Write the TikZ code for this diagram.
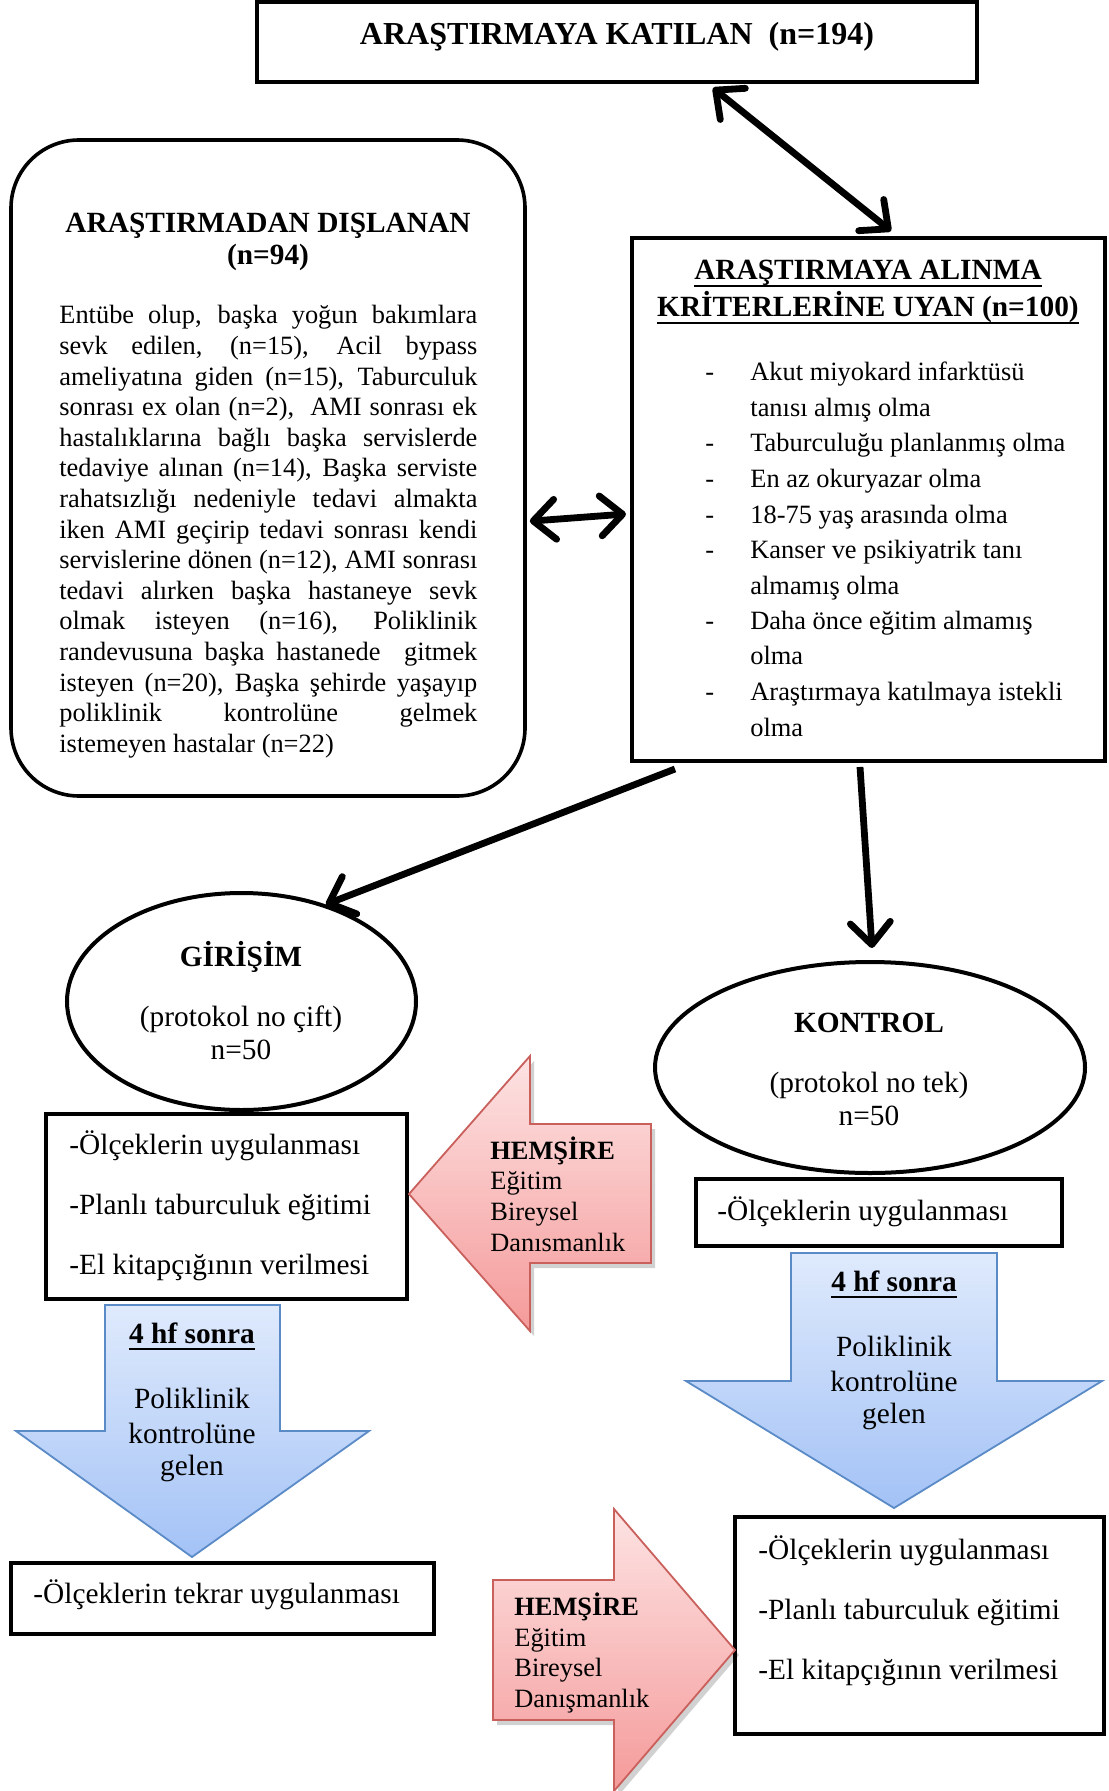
\documentclass[tikz,border=0pt]{standalone}
\usepackage{fontspec}
\setmainfont{Liberation Serif}
\usetikzlibrary{arrows.meta,shapes.geometric,fit,calc}
\newcommand\fsz[2]{\fontsize{#1}{#2}\selectfont}
\newcommand\myul[1]{\setbox0=\hbox{#1}\leavevmode\rlap{\rule[-3.3pt]{\wd0}{1pt}}\box0}
\newcommand\jl[1]{\makebox[\linewidth][s]{#1}}
\newcommand\di[1]{\leavevmode\rlap{-}\hspace*{22.5pt}#1}
\newcommand\nd[1]{\leavevmode\hspace*{22.5pt}#1}
\definecolor{redbd}{HTML}{C9605C}
\definecolor{redtop}{HTML}{FDE3E3}
\definecolor{redbot}{HTML}{F59A9A}
\definecolor{bluebd}{HTML}{5B8BC7}
\definecolor{bluetop}{HTML}{DFEAFC}
\definecolor{bluebot}{HTML}{A3C2F6}
\begin{document}
\begin{tikzpicture}[x=0.5pt,y=-0.5pt,
 >={Straight Barb[length=11pt,width=20pt,round]},
 frame/.style={draw=black,line width=2pt,inner sep=0pt,fit={#1}},
 oval/.style={draw=black,line width=2pt,ellipse,inner sep=0pt},
 tb/.style={inner sep=0pt,font=\fsz{14.67}{17}},
 tbb/.style={inner sep=0pt,font=\fsz{14.67}{17}\bfseries},
 ts/.style={inner sep=0pt,font=\fsz{13.2}{15.4}},
 tsb/.style={inner sep=0pt,font=\fsz{13.2}{15.4}\bfseries},
 conn/.style={line width=3.4pt,draw=black},
 shad/.style={fill=black,opacity=0.18,xshift=2pt,yshift=-2.5pt},
 redar/.style={draw=redbd,line width=0.9pt,top color=redtop,bottom color=redbot},
 bluear/.style={draw=bluebd,line width=0.9pt,top color=bluetop,bottom color=bluebot}
]
\fill[white] (0,0) rectangle (1108,1791);
\useasboundingbox (0,0) rectangle (1108,1791);

% top box
\node[frame={(257,2) (977,82)}] (top) {};
\node[inner sep=0pt,anchor=base,font=\fsz{16}{19}\bfseries] (toptxt) at (617,45) {ARAŞTIRMAYA KATILAN\ \ (n=194)};

% excluded
\node[frame={(11,140) (525,796)},rounded corners=34pt,line width=1.8pt] (excl) {};
\node[tbb,anchor=base] (exclt) at (268,233) {ARAŞTIRMADAN DIŞLANAN};
\node[tbb,anchor=base] (excln) at (268,265) {(n=94)};
\node[anchor=base west,inner sep=0pt] (exclbody) at (59,324) {\parbox[t]{209pt}{\fsz{13.2}{15.3}%
\jl{Entübe olup, başka yoğun bakımlara}\\
\jl{sevk edilen, (n=15), Acil bypass}\\
\jl{ameliyatına giden (n=15), Taburculuk}\\
\jl{sonrası ex olan (n=2),\ \ AMI sonrası ek}\\
\jl{hastalıklarına bağlı başka servislerde}\\
\jl{tedaviye alınan (n=14), Başka serviste}\\
\jl{rahatsızlığı nedeniyle tedavi almakta}\\
\jl{iken AMI geçirip tedavi sonrası kendi}\\
\jl{servislerine dönen (n=12), AMI sonrası}\\
\jl{tedavi alırken başka hastaneye sevk}\\
\jl{olmak isteyen (n=16), Poliklinik}\\
\jl{randevusuna başka hastanede\ \ gitmek}\\
\jl{isteyen (n=20), Başka şehirde yaşayıp}\\
\jl{poliklinik kontrolüne gelmek}\\
istemeyen hastalar (n=22)}};

% criteria
\node[frame={(632,238) (1105,761)}] (crit) {};
\node[tbb,anchor=base] (critt1) at (868,280) {\myul{ARAŞTIRMAYA ALINMA}};
\node[tbb,anchor=base] (critt2) at (868,317) {\myul{KRİTERLERİNE UYAN (n=100)}};
\node[anchor=base west,inner sep=0pt] (critlist) at (705,381) {\parbox[t]{195pt}{\fsz{13.2}{17.75}%
\di{Akut miyokard infarktüsü}\\
\nd{tanısı almış olma}\\
\di{Taburculuğu planlanmış olma}\\
\di{En az okuryazar olma}\\
\di{18-75 yaş arasında olma}\\
\di{Kanser ve psikiyatrik tanı}\\
\nd{almamış olma}\\
\di{Daha önce eğitim almamış}\\
\nd{olma}\\
\di{Araştırmaya katılmaya istekli}\\
\nd{olma}}};

% ellipses
\node[oval,minimum width=174.5pt,minimum height=108.5pt] (gir) at (241.5,1001.5) {};
\node[tbb,anchor=base] (girt) at (241,966) {GİRİŞİM};
\node[tb,anchor=base] (girp) at (241,1026) {(protokol no çift)};
\node[tb,anchor=base] (girn) at (241,1059) {n=50};

\node[oval,minimum width=215pt,minimum height=105.5pt] (kon) at (870,1067.5) {};
\node[tbb,anchor=base] (kont) at (869,1032) {KONTROL};
\node[tb,anchor=base] (konp) at (869,1092) {(protokol no tek)};
\node[tb,anchor=base] (konn) at (869,1125) {n=50};

% boxes
\node[frame={(46,1114) (407,1299)}] (girbox) {};
\node[tb,anchor=base west] (gb1) at (69,1154) {-Ölçeklerin uygulanması};
\node[tb,anchor=base west] (gb2) at (69,1214) {-Planlı taburculuk eğitimi};
\node[tb,anchor=base west] (gb3) at (69,1274) {-El kitapçığının verilmesi};

\node[frame={(696,1179) (1062,1246)}] (konbox) {};
\node[tb,anchor=base west] (kb1) at (717,1220) {-Ölçeklerin uygulanması};

\node[frame={(11,1563) (434,1634)}] (tekbox) {};
\node[tb,anchor=base west] (tk1) at (33,1603) {-Ölçeklerin tekrar uygulanması};

\node[frame={(735,1517) (1104,1734)}] (konbox2) {};
\node[tb,anchor=base west] (kb21) at (758,1559) {-Ölçeklerin uygulanması};
\node[tb,anchor=base west] (kb22) at (758,1619) {-Planlı taburculuk eğitimi};
\node[tb,anchor=base west] (kb23) at (758,1679) {-El kitapçığının verilmesi};

% block arrows
\def\redA{(409,1194) -- (530,1056) -- (530,1124) -- (651,1124) -- (651,1263) -- (530,1263) -- (530,1331) -- cycle}
\def\redB{(493,1580) -- (614,1580) -- (614,1509) -- (735,1650) -- (614,1791) -- (614,1720) -- (493,1720) -- cycle}
\def\blueL{(105,1305) -- (280,1305) -- (280,1431) -- (369,1431) -- (192,1557) -- (16,1431) -- (105,1431) -- cycle}
\def\blueR{(791,1253) -- (997,1253) -- (997,1381) -- (1102,1381) -- (894,1508) -- (686,1381) -- (791,1381) -- cycle}
\fill[shad] \redA;
\path[redar] \redA;
\fill[shad] \redB;
\path[redar] \redB;
\path[bluear] \blueL;
\path[bluear] \blueR;

\node[tsb,anchor=base west] (r1a) at (490,1159) {HEMŞİRE};
\node[ts,anchor=base west] (r1b) at (490,1189) {Eğitim};
\node[ts,anchor=base west] (r1c) at (490,1220) {Bireysel};
\node[ts,anchor=base west] (r1d) at (490,1251) {Danısmanlık};

\node[tsb,anchor=base west] (r2a) at (514,1615) {HEMŞİRE};
\node[ts,anchor=base west] (r2b) at (514,1646) {Eğitim};
\node[ts,anchor=base west] (r2c) at (514,1676) {Bireysel};
\node[ts,anchor=base west] (r2d) at (514,1707) {Danışmanlık};

\node[tbb,anchor=base] (b1a) at (192,1343) {\myul{4 hf sonra}};
\node[tb,anchor=base] (b1b) at (192,1408) {Poliklinik};
\node[tb,anchor=base] (b1c) at (192,1443) {kontrolüne};
\node[tb,anchor=base] (b1d) at (192,1475) {gelen};

\node[tbb,anchor=base] (b2a) at (894,1291) {\myul{4 hf sonra}};
\node[tb,anchor=base] (b2b) at (894,1356) {Poliklinik};
\node[tb,anchor=base] (b2c) at (894,1391) {kontrolüne};
\node[tb,anchor=base] (b2d) at (894,1423) {gelen};

% connectors
\draw[conn,<->] ($(top.south west)+(458,4)$) -- ($(crit.north west)+(261,-5)$);
\draw[conn,<->] ($(excl.north east)+(3,383)$) -- ($(crit.north west)+(-4,278)$);
\draw[conn,->] ($(crit.south west)+(45,6)$) -- (gir.49);
\draw[conn,->] ($(crit.south west)+(230,4)$) -- ($(kon.north)+(2,-12)$);
\end{tikzpicture}
\end{document}
